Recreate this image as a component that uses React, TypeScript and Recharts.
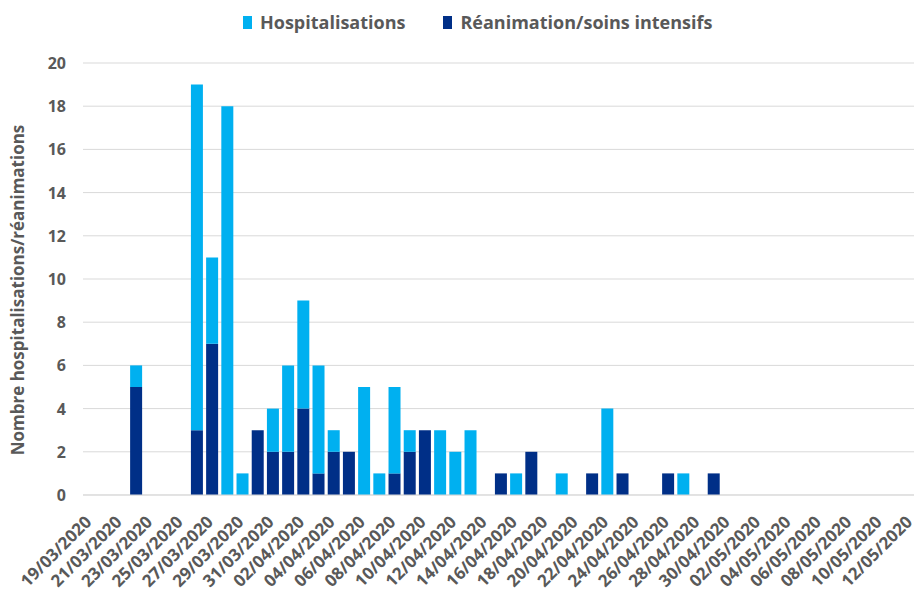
import { BarChart, Bar, XAxis, YAxis, CartesianGrid, Label } from 'recharts'

const dates = [
  '19/03/2020', '20/03/2020', '21/03/2020', '22/03/2020', '23/03/2020', '24/03/2020', '25/03/2020', '26/03/2020', '27/03/2020', '28/03/2020',
  '29/03/2020', '30/03/2020', '31/03/2020', '01/04/2020', '02/04/2020', '03/04/2020', '04/04/2020', '05/04/2020', '06/04/2020', '07/04/2020',
  '08/04/2020', '09/04/2020', '10/04/2020', '11/04/2020', '12/04/2020', '13/04/2020', '14/04/2020', '15/04/2020', '16/04/2020', '17/04/2020',
  '18/04/2020', '19/04/2020', '20/04/2020', '21/04/2020', '22/04/2020', '23/04/2020', '24/04/2020', '25/04/2020', '26/04/2020', '27/04/2020',
  '28/04/2020', '29/04/2020', '30/04/2020', '01/05/2020', '02/05/2020', '03/05/2020', '04/05/2020', '05/05/2020', '06/05/2020', '07/05/2020',
  '08/05/2020', '09/05/2020', '10/05/2020', '11/05/2020', '12/05/2020',
]

// réanimation / soins intensifs (bas de la pile)
const reanimation = [
  0, 0, 0, 5, 0, 0, 0, 3, 7, 0,
  0, 3, 2, 2, 4, 1, 2, 2, 0, 0,
  1, 2, 3, 0, 0, 0, 0, 1, 0, 2,
  0, 0, 0, 1, 0, 1, 0, 0, 1, 0,
  0, 1, 0, 0, 0, 0, 0, 0, 0, 0,
  0, 0, 0, 0, 0,
]

// hospitalisations (haut de la pile)
const hospitalisations = [
  0, 0, 0, 1, 0, 0, 0, 16, 4, 18,
  1, 0, 2, 4, 5, 5, 1, 0, 5, 1,
  4, 1, 0, 3, 2, 3, 0, 0, 1, 0,
  0, 1, 0, 0, 4, 0, 0, 0, 0, 1,
  0, 0, 0, 0, 0, 0, 0, 0, 0, 0,
  0, 0, 0, 0, 0,
]

const yTicks = [0, 2, 4, 6, 8, 10, 12, 14, 16, 18, 20]

const series = [
  { key: 'hosp', name: 'Hospitalisations', color: '#00B0F0' },
  { key: 'rea', name: 'Réanimation/soins intensifs', color: '#002F87' },
]

const data = dates.map((d, i) => ({ date: d, rea: reanimation[i], hosp: hospitalisations[i] }))

const FONT = '"Open Sans", sans-serif'
const GREY = '#595959'

function DateTick({ x, y, payload }: any) {
  return (
    <g transform={`translate(${x + 2},${y + 28})`}>
      <text
        x={0}
        y={0}
        textAnchor="end"
        transform="rotate(-45)"
        fill={GREY}
        fontFamily={FONT}
        fontWeight="bold"
        fontSize={17}
      >
        {payload.value}
      </text>
    </g>
  )
}

function ValueTick({ x, y, payload }: any) {
  return (
    <text x={x - 17} y={y} dy={6} textAnchor="end" fill={GREY} fontFamily={FONT} fontWeight="bold" fontSize={16}>
      {payload.value}
    </text>
  )
}

export default function App() {
  return (
    <div style={{ position: 'absolute', left: 0, top: 0, width: 914, height: 601, overflow: 'hidden', background: '#fff' }}>
      <div
        style={{
          position: 'absolute',
          left: 243,
          top: 10,
          display: 'flex',
          alignItems: 'center',
          gap: 38,
          fontFamily: FONT,
          fontWeight: 'bold',
          fontSize: 18,
          color: GREY,
        }}
      >
        {series.map((s) => (
          <div key={s.key} style={{ display: 'flex', alignItems: 'center', gap: 8 }}>
            <span style={{ display: 'inline-block', width: 9, height: 13, background: s.color }} />
            <span>{s.name}</span>
          </div>
        ))}
      </div>
      <BarChart
        width={919}
        height={601}
        data={data}
        margin={{ top: 63, right: 0, bottom: 0, left: 0 }}
        barCategoryGap="10%"
      >
        <CartesianGrid vertical={false} stroke="#D9D9D9" />
        <XAxis
          dataKey="date"
          interval={1}
          height={106}
          tickSize={0}
          tickMargin={0}
          tickLine={false}
          axisLine={{ stroke: '#D9D9D9' }}
          tick={<DateTick />}
        />
        <YAxis
          width={83}
          domain={[0, 20]}
          ticks={yTicks}
          interval={0}
          axisLine={false}
          tickLine={false}
          tickSize={0}
          tickMargin={0}
          tick={<ValueTick />}
        >
          <Label
            content={() => (
              <text
                x={0}
                y={0}
                transform="translate(24,290) rotate(-90)"
                textAnchor="middle"
                fill={GREY}
                fontFamily={FONT}
                fontWeight="bold"
                fontSize={17}
              >
                Nombre hospitalisations/réanimations
              </text>
            )}
          />
        </YAxis>
        <Bar dataKey="rea" stackId="a" fill="#002F87" isAnimationActive={false} />
        <Bar dataKey="hosp" stackId="a" fill="#00B0F0" isAnimationActive={false} />
      </BarChart>
    </div>
  )
}
